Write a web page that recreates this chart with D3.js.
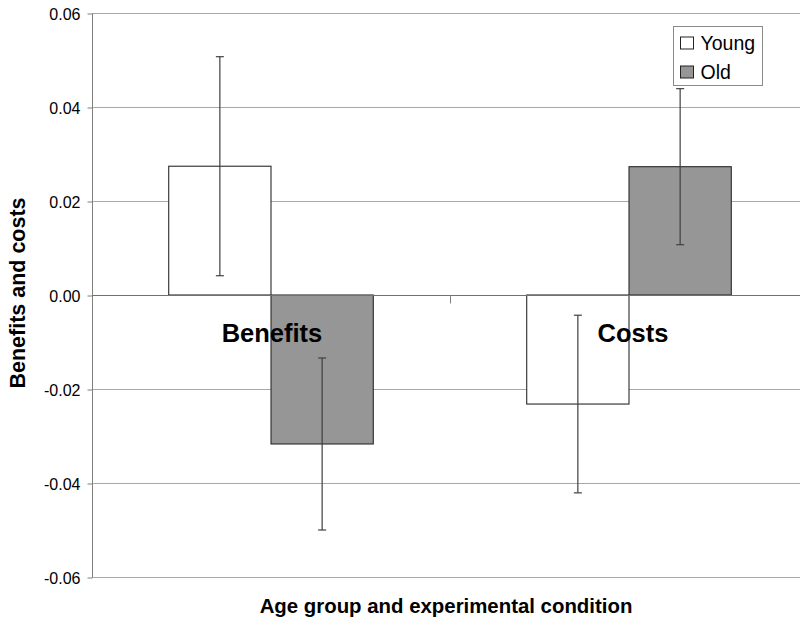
<!DOCTYPE html>
<html>
<head>
<meta charset="utf-8">
<script src="https://cdn.jsdelivr.net/npm/d3@7/dist/d3.min.js"></script>
<style>
  html, body { margin: 0; padding: 0; background: #fff; }
  svg { display: block; font-family: "Liberation Sans", Arial, sans-serif; }
</style>
</head>
<body>
<svg id="chart" width="800" height="623"></svg>
<script>
// Conditions on the x axis and the two age groups
const conditions = ["Benefits", "Costs"];
const groups = ["Young", "Old"];

// Mean benefit / cost per condition, one array per age group
const youngValues = [0.0274, -0.0232];
const oldValues = [-0.0317, 0.0273];

// Error bar half-widths per condition
const youngErrors = [0.0233, 0.0189];
const oldErrors = [0.0183, 0.0166];

// Y axis ticks
const yTicks = [0.06, 0.04, 0.02, 0.00, -0.02, -0.04, -0.06];

const seriesValues = { Young: youngValues, Old: oldValues };
const seriesErrors = { Young: youngErrors, Old: oldErrors };
const fills = { Young: "#ffffff", Old: "#969696" };

const svg = d3.select("#chart");

const plot = { left: 92, right: 808, top: 13, bottom: 577 };

const y = d3.scaleLinear().domain([-0.06, 0.06]).range([plot.bottom, plot.top]);
const x0 = d3.scaleBand().domain(conditions).range([plot.left, plot.right]).paddingInner(0).paddingOuter(0);
const x1 = d3.scaleBand().domain(groups).range([0, x0.bandwidth()]).paddingInner(0).paddingOuter(0.75);

const crisp = v => Math.round(v) + 0.5;

// Horizontal gridlines
svg.append("g")
  .selectAll("line")
  .data(yTicks.filter(t => t !== 0))
  .join("line")
  .attr("x1", plot.left)
  .attr("x2", plot.right)
  .attr("y1", d => crisp(y(d)))
  .attr("y2", d => crisp(y(d)))
  .attr("stroke", "#a8a8a8")
  .attr("stroke-width", 1);

// Y axis
const yAxis = d3.axisLeft(y)
  .tickValues(yTicks)
  .tickSize(5)
  .tickPadding(7)
  .tickFormat(d3.format(".2f"));

const yAxisG = svg.append("g")
  .attr("transform", `translate(${plot.left + 0.5},0.5)`)
  .call(yAxis);
yAxisG.select(".domain").attr("stroke", "#808080").attr("d", `M0,${Math.round(y(0.06))}V${Math.round(y(-0.06))}`);
yAxisG.selectAll(".tick line").attr("stroke", "#808080");
yAxisG.selectAll(".tick text")
  .attr("fill", "#000")
  .attr("font-size", "16px")
  .attr("font-family", "Liberation Sans, Arial, sans-serif")
  .attr("dy", "0.36em")
  .text(d => d3.format(".2f")(d).replace("−", "-"));

// Bars
const bars = [];
conditions.forEach((c, i) => {
  groups.forEach(g => {
    bars.push({ condition: c, group: g, value: seriesValues[g][i], err: seriesErrors[g][i] });
  });
});

svg.append("g")
  .selectAll("rect")
  .data(bars)
  .join("rect")
  .attr("x", d => x0(d.condition) + x1(d.group))
  .attr("width", x1.bandwidth())
  .attr("y", d => y(Math.max(0, d.value)))
  .attr("height", d => Math.abs(y(d.value) - y(0)))
  .attr("fill", d => fills[d.group])
  .attr("stroke", "#2a2a2a")
  .attr("stroke-width", 1.1);

// Category axis along zero
svg.append("line")
  .attr("x1", plot.left)
  .attr("x2", plot.right)
  .attr("y1", crisp(y(0)))
  .attr("y2", crisp(y(0)))
  .attr("stroke", "#707070");

svg.append("g")
  .selectAll("line")
  .data(x0.domain().slice(1))
  .join("line")
  .attr("x1", d => crisp(x0(d)))
  .attr("x2", d => crisp(x0(d)))
  .attr("y1", crisp(y(0)))
  .attr("y2", crisp(y(0)) + 8)
  .attr("stroke", "#808080");

// Error bars
const eb = svg.append("g").attr("stroke", "#404040").attr("stroke-width", 1.2);
bars.forEach(d => {
  const cx = x0(d.condition) + x1(d.group) + x1.bandwidth() / 2;
  const yHi = y(d.value + d.err);
  const yLo = y(d.value - d.err);
  eb.append("line").attr("x1", cx).attr("x2", cx).attr("y1", yHi).attr("y2", yLo);
  eb.append("line").attr("x1", cx - 4).attr("x2", cx + 4).attr("y1", yHi).attr("y2", yHi);
  eb.append("line").attr("x1", cx - 4).attr("x2", cx + 4).attr("y1", yLo).attr("y2", yLo);
});

// Condition labels inside the plot
const labelShift = { Benefits: 1, Costs: 4 };
svg.append("g")
  .selectAll("text")
  .data(conditions)
  .join("text")
  .attr("x", d => x0(d) + x0.bandwidth() / 2 + labelShift[d])
  .attr("y", y(-0.01))
  .attr("text-anchor", "middle")
  .attr("font-weight", "bold")
  .attr("font-size", "25.5px")
  .attr("fill", "#000")
  .text(d => d);

// Legend
const legend = svg.append("g").attr("transform", "translate(673.5,26.5)");
legend.append("rect")
  .attr("width", 89)
  .attr("height", 59)
  .attr("fill", "#fff")
  .attr("stroke", "#8a8a8a");
groups.forEach((g, i) => {
  const row = legend.append("g").attr("transform", `translate(7,${10.5 + i * 29})`);
  row.append("rect")
    .attr("width", 13)
    .attr("height", 12)
    .attr("fill", fills[g])
    .attr("stroke", "#222");
  row.append("text")
    .attr("x", 20)
    .attr("y", 13)
    .attr("font-size", "19.5px")
    .attr("fill", "#000")
    .text(g);
});

// Axis titles
svg.append("text")
  .attr("x", 446)
  .attr("y", 613)
  .attr("text-anchor", "middle")
  .attr("font-weight", "bold")
  .attr("font-size", "20.4px")
  .attr("fill", "#000")
  .text("Age group and experimental condition");

svg.append("text")
  .attr("transform", "translate(25,293) rotate(-90)")
  .attr("text-anchor", "middle")
  .attr("font-weight", "bold")
  .attr("font-size", "21.5px")
  .attr("fill", "#000")
  .text("Benefits and costs");
</script>
</body>
</html>
